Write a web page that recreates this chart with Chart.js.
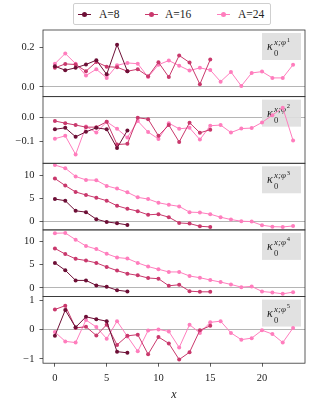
<!DOCTYPE html>
<html>
<head>
<meta charset="utf-8">
<script src="https://cdn.jsdelivr.net/npm/chart.js@4.4.0/dist/chart.umd.min.js"></script>
<style>
  html, body { margin: 0; padding: 0; background: #fff; }
  #wrap { position: relative; width: 315px; height: 410px; overflow: hidden; }
  #chart { position: absolute; left: 0; top: 0; }
  #legend { position: absolute; left: 73px; top: 3px; width: 196px; height: 20px; border: 1px solid #cfcfcf; border-radius: 2px;
            font-family: 'Liberation Serif', serif; font-size: 11.5px; color: #222; background: #fff; }
  .item { position: absolute; top: 0; height: 20px; line-height: 20px; white-space: nowrap; }
  .mk { position: absolute; top: 10px; width: 13px; height: 1px; }
  .dot { position: absolute; left: 4px; top: -2px; width: 5px; height: 5px; border-radius: 50%; }
</style>
</head>
<body>
<div id="wrap">
  <canvas id="chart" width="315" height="410"></canvas>
  <div id="legend"></div>
</div>
<script>
// x positions and series names
const xs = [0,1,2,3,4,5,6,7,8,9,10,11,12,13,14,15,16,17,18,19,20,21,22,23];
const seriesNames = ['A=8', 'A=16', 'A=24'];
const seriesColors = ['#6d0f36', '#c9386c', '#ff7dbd'];
const xTicks = [0, 5, 10, 15, 20];

// kappa_0^{x;phi^1}
const k1A8  = [0.105, 0.085, 0.097, 0.114, 0.136, 0.064, 0.214, 0.080];
const k1A16 = [0.097, 0.117, 0.114, 0.080, 0.127, 0.103, 0.100, 0.080, 0.090, 0.054, 0.125, 0.050, 0.160, 0.124, 0.014, 0.139];
const k1A24 = [0.118, 0.170, 0.118, 0.058, 0.090, 0.046, 0.110, 0.122, 0.118, 0.050, 0.113, 0.134, 0.108, 0.083, 0.097, 0.086, 0.027, 0.076, 0.005, 0.071, 0.078, 0.046, 0.046, 0.113];

// kappa_0^{x;phi^2}
const k2A8  = [-0.049, -0.043, -0.081, -0.060, -0.043, -0.049, -0.129, -0.054];
const k2A16 = [-0.014, -0.023, -0.031, -0.040, -0.040, -0.017, -0.114, -0.111, 0.000, -0.006, -0.077, -0.031, -0.103, -0.021, -0.064, -0.051];
const k2A24 = [-0.089, -0.077, -0.156, -0.037, -0.063, -0.017, -0.047, -0.084, -0.014, -0.061, -0.090, -0.023, -0.047, -0.043, -0.093, -0.034, -0.031, -0.063, -0.046, -0.044, -0.020, 0.011, 0.043, -0.097];

// kappa_0^{x;phi^3}
const k3A8  = [4.85, 4.49, 2.28, 1.99, 0.44, -0.15, -0.44, -0.81];
const k3A16 = [9.34, 7.79, 6.40, 5.74, 5.15, 4.49, 3.38, 2.72, 2.20, 1.40, 1.54, 0.88, -0.37, -0.51, -1.10, -1.25];
const k3A24 = [12.28, 11.60, 9.78, 9.04, 8.97, 7.72, 7.13, 6.32, 5.22, 4.85, 4.04, 3.60, 3.24, 1.99, 1.91, 1.54, 0.88, 0.37, 0.00, -0.07, -0.88, -1.18, -1.25, -1.03];

// kappa_0^{x;phi^4}
const k4A8  = [5.36, 3.77, 1.59, 1.59, 0.51, 0.22, -0.51, -0.80];
const k4A16 = [8.48, 7.25, 6.23, 5.87, 5.36, 4.49, 3.70, 3.04, 2.68, 2.10, 1.96, 0.43, 0.65, -0.72, -0.87, -0.87];
const k4A24 = [11.74, 11.81, 10.36, 8.99, 8.33, 7.32, 6.52, 6.30, 5.36, 4.57, 3.99, 3.41, 3.41, 2.54, 2.17, 1.67, 1.23, 0.72, 0.14, 0.29, -0.80, -1.01, -1.30, -0.94];

// kappa_0^{x;phi^5}
const k5A8  = [-0.21, 0.67, 0.08, 0.44, 0.36, 0.29, -0.75, -0.79];
const k5A16 = [0.69, 0.82, 0.06, 0.10, -0.20, 0.17, -0.52, -0.21, -0.17, -0.84, -0.25, -0.47, -1.02, -0.77, -0.02, 0.13];
const k5A24 = [-0.08, -0.40, -0.44, 0.33, 0.09, -0.31, 0.29, -0.23, -0.74, -0.03, 0.01, -0.06, -0.61, 0.17, -0.11, 0.25, 0.29, -0.11, -0.34, -0.29, -0.02, -0.15, -0.44, 0.06];

const panels = [[k1A8, k1A16, k1A24], [k2A8, k2A16, k2A24], [k3A8, k3A16, k3A24], [k4A8, k4A16, k4A24], [k5A8, k5A16, k5A24]];
const panelPowers = ['1', '2', '3', '4', '5'];
const yMins = [-0.049, -0.1936, -1.9, -1.89, -1.145];
const yMaxs = [0.289, 0.0897, 12.67, 12.46, 1.131];
const yTickVals = [[0, 0.2], [-0.1, 0], [0, 5, 10], [0, 5, 10], [-1, 0, 1]];
const yDecimals = [1, 1, 0, 0, 0];

const serif = "'Liberation Serif', 'DejaVu Serif', serif";

// legend (html)
const legendPos = [[4, 25], [71, 91], [143, 164]];
const legend = document.getElementById('legend');
seriesNames.forEach((n, i) => {
  const it = document.createElement('div');
  it.className = 'item';
  it.style.left = legendPos[i][0] + 'px';
  it.innerHTML = '<span class="mk" style="left:0;background:' + seriesColors[i] + '"><span class="dot" style="background:' + seriesColors[i] + '"></span></span>' +
    '<span style="position:absolute;left:' + (legendPos[i][1] - legendPos[i][0]) + 'px">' + n + '</span>';
  legend.appendChild(it);
});

const datasets = [];
panels.forEach((p, pi) => {
  p.forEach((vals, si) => {
    datasets.push({
      label: seriesNames[si],
      yAxisID: 'y' + pi,
      data: vals.map((v, k) => ({ x: xs[k], y: v })),
      borderColor: seriesColors[si],
      backgroundColor: seriesColors[si],
      borderWidth: 1,
      pointRadius: 2,
      pointBorderWidth: 0,
      pointHoverRadius: 2,
      tension: 0,
      clip: false
    });
  });
});

const scales = {
  x: {
    type: 'linear', min: -1.15, max: 24.15,
    afterBuildTicks: s => { s.ticks = xTicks.map(v => ({ value: v })); },
    afterFit: s => { s.height = 410 - 363.2; },
    grid: { drawOnChartArea: false, drawTicks: true, tickLength: 3.5, tickColor: '#333', tickWidth: 0.8 },
    border: { display: false },
    ticks: { color: '#222', padding: 5, maxRotation: 0, font: { family: serif, size: 10.5 } },
    title: { display: true, text: 'x', color: '#222', font: { family: serif, size: 12, style: 'italic' }, padding: { top: 0, bottom: 8 } }
  }
};
// stacked y axes: the first one added ends up at the bottom, so add them bottom-up
for (let pi = panels.length - 1; pi >= 0; pi--) {
  scales['y' + pi] = {
    type: 'linear', position: 'left', stack: 'panels', stackWeight: 1,
    min: yMins[pi], max: yMaxs[pi],
    afterBuildTicks: s => { s.ticks = yTickVals[pi].map(v => ({ value: v })); },
    afterFit: s => { s.width = 43; },
    grid: {
      color: c => (c.tick && c.tick.value === 0) ? '#b5b5b5' : 'rgba(0,0,0,0)',
      lineWidth: 1, drawTicks: true, tickLength: 3.5, tickColor: '#333', tickWidth: 0.8
    },
    border: { display: false },
    ticks: {
      color: '#222', padding: 5, font: { family: serif, size: 10.5 },
      callback: v => Number(v).toFixed(yDecimals[pi]).replace('-', '\u2212')
    }
  };
}

// frames + grey label boxes
const panelDeco = {
  id: 'panelDeco',
  beforeDatasetsDraw(chart) {
    const ctx = chart.ctx, a = chart.chartArea;
    panels.forEach((p, pi) => {
      const s = chart.scales['y' + pi];
      const bx = a.right - 43, by = s.top + 3;
      ctx.save();
      ctx.fillStyle = 'rgba(222,222,222,0.9)';
      ctx.fillRect(bx, by, 39, 27);
      ctx.fillStyle = '#222';
      ctx.textBaseline = 'alphabetic';
      ctx.font = 'italic 12px ' + serif;
      ctx.fillText('\u03ba', bx + 5, by + 17);
      ctx.font = '8.5px ' + serif;
      ctx.fillText('0', bx + 12, by + 23);
      ctx.font = 'italic 9px ' + serif;
      ctx.fillText('x;\u03c6', bx + 12, by + 12);
      const w = ctx.measureText('x;\u03c6').width;
      ctx.font = '6.5px ' + serif;
      ctx.fillText(panelPowers[pi], bx + 12 + w + 0.8, by + 8.5);
      ctx.restore();
    });
  },
  afterDraw(chart) {
    const ctx = chart.ctx, a = chart.chartArea;
    ctx.save();
    ctx.strokeStyle = '#333';
    ctx.lineWidth = 0.8;
    panels.forEach((p, pi) => {
      const s = chart.scales['y' + pi];
      ctx.strokeRect(a.left, s.top, a.right - a.left, s.bottom - s.top);
    });
    ctx.restore();
  }
};

new Chart(document.getElementById('chart'), {
  type: 'line',
  data: { datasets },
  options: {
    responsive: false,
    animation: false,
    layout: { padding: { top: 30, left: 0, right: 10, bottom: 0 } },
    plugins: { legend: { display: false }, tooltip: { enabled: false } },
    scales
  },
  plugins: [panelDeco]
});
</script>
</body>
</html>
